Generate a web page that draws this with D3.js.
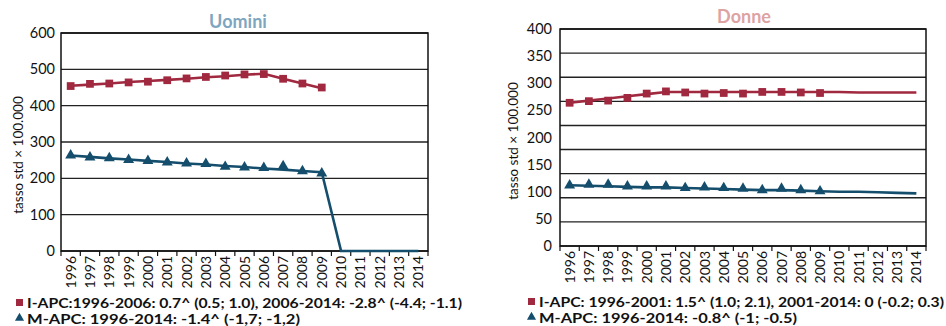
<!DOCTYPE html>
<html><head><meta charset="utf-8">
<script src="https://cdn.jsdelivr.net/npm/d3@7"></script>
<style>
body{margin:0;background:#fff;}
text{font-family:Lato,"Open Sans",sans-serif;}
</style></head>
<body><svg id="c" width="946" height="326"></svg>
<script>
const years = ["1996","1997","1998","1999","2000","2001","2002","2003","2004","2005","2006","2007","2008","2009","2010","2011","2012","2013","2014"];
const obsYears = years.slice(0,14);

// Uomini
const menIncObs  = [454,460,461,464,466,470,475,479,483,486,487,474,461,450];
const menIncFit  = [455,458,461,465,468,471,474,478,481,485,488,474,461,448];
const menMortObs = [263,258,256,251,248,244,241,240,232,230,229,234,220,214];
const menMortFit = [263,259,255,252,248,245,241,238,234,231,227,224,220,217,0,0,0,0,0];
const menTicks = [0,100,200,300,400,500,600];

// Donne
const womIncObs  = [264,267,268,273,281,285,283,281,282,281,284,284,283,282];
const womIncFit  = [264,268,272,276,280,284,284,284,284,284,284,284,284,284,284,283,283,283,283];
const womMortObs = [112,113,113,110,110,110,107,108,107,106,103,106,103,101];
const womMortFit = [112,111,110,109,108,108,107,106,105,104,103,103,102,101,100,100,99,98,97];
const womTicks = [0,50,100,150,200,250,300,350,400];
const womGrid = [0,50,100,150,200,250,300,350,400,450];

const menLegend = ["I-APC:1996-2006: 0.7^ (0.5; 1.0), 2006-2014: -2.8^ (-4.4; -1.1)", "M-APC: 1996-2014: -1.4^ (-1,7; -1,2)"];
const womLegend = ["I-APC: 1996-2001: 1.5^ (1.0; 2.1), 2001-2014: 0 (-0.2; 0.3)", "M-APC: 1996-2014: -0.8^ (-1; -0.5)"];

const RED = "#A0283F", BLUE = "#144E6C";
const svg = d3.select("#c");

function panel(cfg){
  const g = svg.append("g");
  const x = d3.scaleBand().domain(years).range([cfg.x0, cfg.x1]);
  const cx = d => x(d) + x.bandwidth()/2;
  const y = d3.scaleLinear().domain(cfg.domain).range([cfg.y1, cfg.y0]);
  const yg = d3.scaleLinear().domain(cfg.gridDomain).range([cfg.y1, cfg.y0]);

  g.selectAll(".grid").data(cfg.grid).join("line")
    .attr("x1", cfg.x0).attr("x2", cfg.x1)
    .attr("y1", d => yg(d)).attr("y2", d => yg(d))
    .attr("stroke", "#222").attr("stroke-width", 1.4);
  g.append("rect").attr("x", cfg.x0).attr("y", cfg.y0)
    .attr("width", cfg.x1 - cfg.x0).attr("height", cfg.y1 - cfg.y0)
    .attr("fill", "none").attr("stroke", "#111").attr("stroke-width", 1.5);

  g.selectAll(".yl").data(cfg.ticks).join("text")
    .attr("x", cfg.ylabX).attr("y", d => y(d)).attr("dy", "0.35em")
    .attr("text-anchor", "end").attr("font-size", 14.5).attr("fill", "#111")
    .text(d => d);

  const bounds = years.map(d => x(d)).concat([cfg.x1]);
  g.selectAll(".xt").data(bounds).join("line")
    .attr("x1", d => d).attr("x2", d => d)
    .attr("y1", cfg.y1).attr("y2", cfg.y1 + 5)
    .attr("stroke", "#111").attr("stroke-width", 1.2);
  g.selectAll(".xl").data(years).join("text")
    .attr("transform", d => `translate(${cx(d)},${cfg.y1 + 5}) rotate(-90)`)
    .attr("dy", "0.36em").attr("text-anchor", "end")
    .attr("font-size", 14).attr("fill", "#111").text(d => d);

  g.append("text")
    .attr("transform", `translate(${cfg.ytX},${cfg.ytY}) rotate(-90)`)
    .attr("text-anchor", "middle").attr("font-size", 13.5).attr("fill", "#111")
    .text("tasso std × 100.000");

  g.append("text").attr("x", cfg.titleX).attr("y", cfg.titleY)
    .attr("text-anchor", "middle").attr("font-size", 18).attr("font-weight", "bold")
    .attr("fill", cfg.titleColor).text(cfg.title);

  const line = d3.line().x((d,i) => cx(years[i])).y(d => y(d));
  g.append("path").datum(cfg.incFit).attr("d", line)
    .attr("fill", "none").attr("stroke", RED).attr("stroke-width", 2.6);
  g.append("path").datum(cfg.mortFit).attr("d", line)
    .attr("fill", "none").attr("stroke", BLUE).attr("stroke-width", 2.6);

  const sq = d3.symbol().type(d3.symbolSquare).size(60);
  const tri = d3.symbol().type(d3.symbolTriangle).size(52);
  g.selectAll(".sq").data(cfg.incObs).join("path")
    .attr("d", sq).attr("transform", (d,i) => `translate(${cx(obsYears[i])},${y(d)})`)
    .attr("fill", RED);
  g.selectAll(".tr").data(cfg.mortObs).join("path")
    .attr("d", tri).attr("transform", (d,i) => `translate(${cx(obsYears[i])},${y(d)})`)
    .attr("fill", BLUE);

  const lg = g.append("g");
  lg.append("rect").attr("x", cfg.legX).attr("y", cfg.legY - 9).attr("width", 7).attr("height", 7).attr("fill", RED);
  lg.append("path").attr("d", d3.symbol().type(d3.symbolTriangle).size(36))
    .attr("transform", `translate(${cfg.legX + 3.5},${cfg.legY + 10})`).attr("fill", BLUE);
  cfg.legend.forEach((t, i) => {
    lg.append("text").attr("x", cfg.legX + 11).attr("y", cfg.legY + i * 15.5)
      .attr("font-size", 12.5).attr("font-weight", "bold").attr("fill", "#111")
      .attr("textLength", cfg.legW[i]).attr("lengthAdjust", "spacingAndGlyphs")
      .text(t);
  });
}

panel({x0:61, x1:428, y0:33, y1:251, domain:[0,600], gridDomain:[0,600], grid:menTicks, ticks:menTicks,
  ylabX:55, ytX:23, ytY:155, titleX:238, titleY:28, title:"Uomini", titleColor:"#7FA6C0",
  incFit:menIncFit, incObs:menIncObs, mortFit:menMortFit, mortObs:menMortObs,
  legX:16, legY:308, legend:menLegend, legW:[435, 273]});

panel({x0:560, x1:926, y0:29, y1:246, domain:[0,400], gridDomain:[0,450], grid:womGrid, ticks:womTicks,
  ylabX:552, ytX:518, ytY:141, titleX:744, titleY:23, title:"Donne", titleColor:"#DDA3A3",
  incFit:womIncFit, incObs:womIncObs, mortFit:womMortFit, mortObs:womMortObs,
  legX:528, legY:307, legend:womLegend, legW:[405, 258]});
</script></body></html>
